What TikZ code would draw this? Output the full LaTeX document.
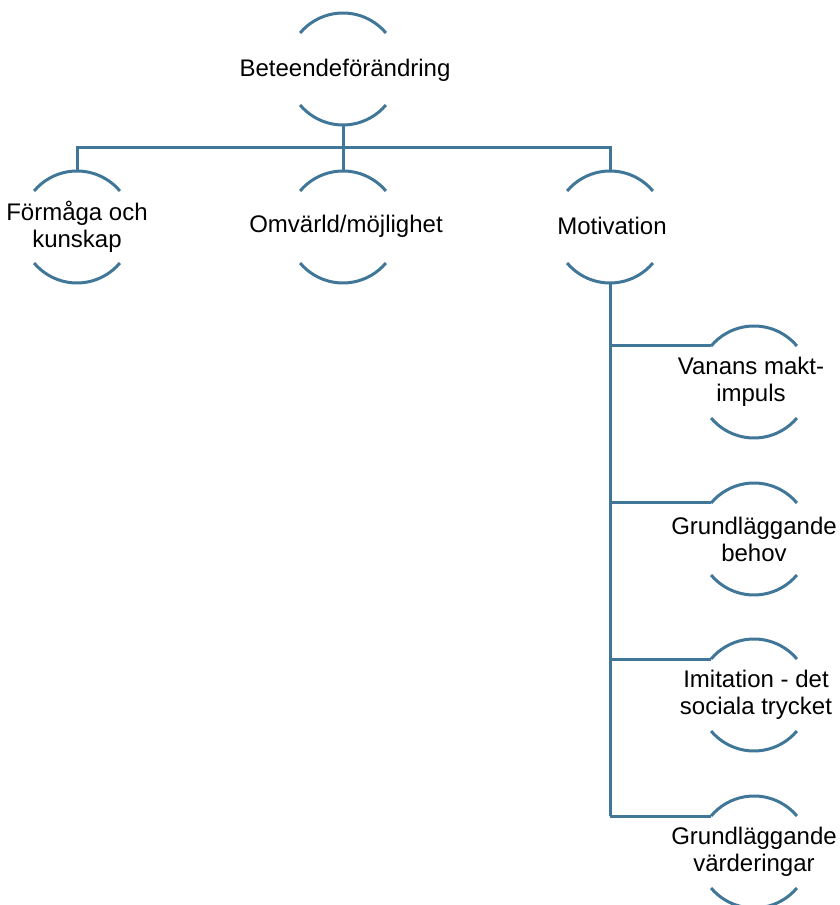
\documentclass[tikz,border=0pt]{standalone}
\usepackage{fontspec}
\setmainfont{Liberation Sans}
\usetikzlibrary{calc}
\definecolor{linec}{RGB}{64,118,152}
\tikzset{
  lbl/.style={align=center,inner sep=0pt,font=\fontsize{24}{27}\selectfont,text=black},
  arcline/.style={draw=linec,line width=3pt},
  conn/.style={draw=linec,line width=3pt,line join=miter}
}
\newcommand{\halfarcs}[1]{%
  \draw[arcline] ($(#1)+(40:56)$) arc[start angle=40,end angle=140,radius=56];
  \draw[arcline] ($(#1)+(220:56)$) arc[start angle=220,end angle=320,radius=56];
}
\begin{document}
\begin{tikzpicture}[x=1pt,y=1pt]
\useasboundingbox (0,0) rectangle (839,905);
% nodes
\node[lbl] (r) at (345,835) {Beteendeförändring};
\node[lbl] (a) at (77,678) {Förmåga och\\kunskap};
\node[lbl] (b) at (346,679) {Omvärld/möjlighet};
\node[lbl] (c) at (612,679) {Motivation};
\node[lbl] (s1) at (751,523) {Vanans makt-\\impuls};
\node[lbl] (s2) at (754,366) {Grundläggande\\behov};
\node[lbl] (s3) at (756,210) {Imitation - det\\sociala trycket};
\node[lbl] (s4) at (754,53) {Grundläggande\\värderingar};
% circle centres
\coordinate (rc) at (343,836);
\coordinate (ac) at (77,678);
\coordinate (bc) at (343,678);
\coordinate (cc) at (610,678);
\coordinate (s1c) at (754,523);
\coordinate (s2c) at (754,366);
\coordinate (s3c) at (754,210);
\coordinate (s4c) at (754,53);
\foreach \n in {rc,ac,bc,cc,s1c,s2c,s3c,s4c}{\halfarcs{\n}}
% anchor points
\coordinate (rB) at ($(rc)+(0,-56)$);
\coordinate (aT) at ($(ac)+(0,56)$);
\coordinate (bT) at ($(bc)+(0,56)$);
\coordinate (cT) at ($(cc)+(0,56)$);
\coordinate (cB) at ($(cc)+(0,-56)$);
\coordinate (bus) at (343,757);
\foreach \s in {s1,s2,s3,s4}{\coordinate (\s L) at ($(\s c)+(140:56)$);}
% connectors
\draw[conn] (rB) -- (bT);
\draw[conn] (aT) -- (aT |- bus) -- (cT |- bus) -- (cT);
\draw[conn] (cB) -- (cB |- s4L);
\foreach \s in {s1,s2,s3,s4}{\draw[conn] (cB |- \s L) -- (\s L);}
\end{tikzpicture}
\end{document}
